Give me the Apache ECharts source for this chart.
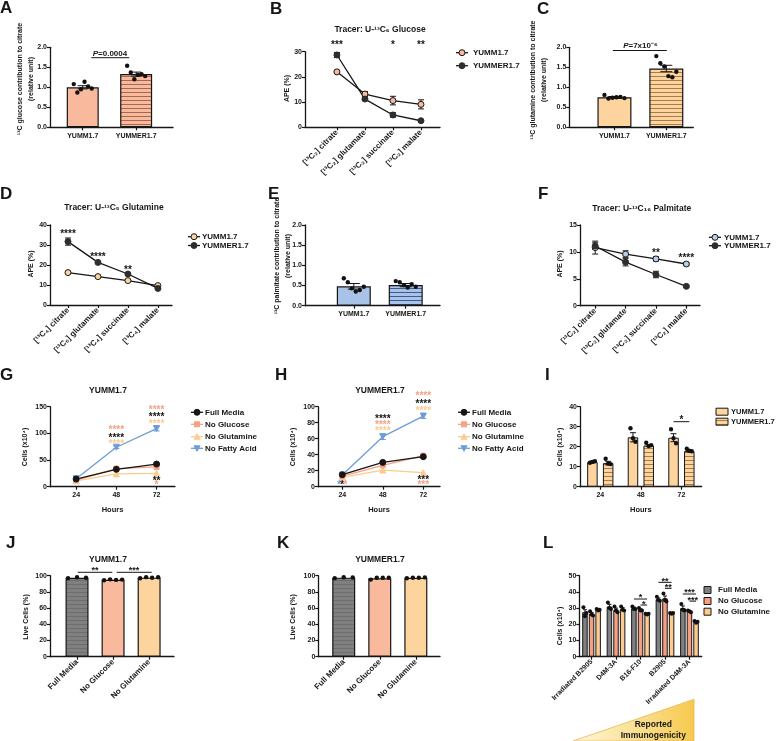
<!DOCTYPE html>
<html><head><meta charset="utf-8">
<script src="https://cdn.jsdelivr.net/npm/echarts@6/dist/echarts.min.js"></script>
<style>html,body{margin:0;padding:0;background:#fff}#c{width:778px;height:741px}</style>
</head><body><div id="c"></div>
<script>
// ================= DATA =================
// A  13C glucose contribution to citrate
const A_labels = ['YUMM1.7', 'YUMMER1.7'];
const A_mean = [1.00, 1.33];
const A_sem = [0.04, 0.05];
const A_dots = [[1.08, 0.87, 0.95, 1.14, 1.02, 0.97], [1.54, 1.37, 1.20, 1.31, 1.33, 1.28]];
// B  Tracer U-13C6 glucose
const B_labels = ['[¹³C₂] citrate', '[¹³C₂] glutamate', '[¹³C₂] succinate', '[¹³C₂] malate'];
const B_yumm = [22.0, 13.2, 10.6, 9.1];
const B_yumm_sem = [0.6, 1.0, 1.7, 1.8];
const B_yummer = [28.7, 11.2, 4.9, 2.6];
const B_yummer_sem = [1.0, 0.6, 0.9, 0.3];
const B_stars = ['***', '', '*', '**'];
// C  13C glutamine contribution to citrate
const C_labels = ['YUMM1.7', 'YUMMER1.7'];
const C_mean = [0.75, 1.47];
const C_sem = [0.02, 0.08];
const C_dots = [[0.81, 0.72, 0.74, 0.75, 0.76, 0.73], [1.78, 1.60, 1.52, 1.28, 1.25, 1.39]];
// D  Tracer U-13C5 glutamine
const D_labels = ['[¹³C₄] citrate', '[¹³C₅] glutamate', '[¹³C₄] succinate', '[¹³C₄] malate'];
const D_yumm = [16.2, 14.2, 12.2, 9.7];
const D_yumm_sem = [0.4, 0.4, 0.4, 0.5];
const D_yummer = [31.7, 21.3, 15.5, 8.3];
const D_yummer_sem = [1.8, 0.6, 0.6, 0.4];
const D_stars = ['****', '****', '**', ''];
// E  13C palmitate contribution to citrate
const E_labels = ['YUMM1.7', 'YUMMER1.7'];
const E_mean = [0.48, 0.51];
const E_sem = [0.07, 0.04];
const E_dots = [[0.68, 0.58, 0.43, 0.35, 0.39, 0.47], [0.61, 0.58, 0.51, 0.45, 0.53, 0.47]];
// F  Tracer U-13C16 palmitate
const F_labels = ['[¹³C₂] citrate', '[¹³C₂] glutamate', '[¹³C₂] succinate', '[¹³C₂] malate'];
const F_yumm = [10.8, 9.6, 8.7, 7.75];
const F_yumm_sem = [1.2, 0.6, 0.4, 0.3];
const F_yummer = [11.1, 8.1, 5.8, 3.6];
const F_yummer_sem = [0.6, 0.7, 0.6, 0.2];
const F_stars = ['', '', '**', '****'];
// G / H  growth curves
const hours = [24, 48, 72];
const media = ['Full Media', 'No Glucose', 'No Glutamine', 'No Fatty Acid'];
const G_full = [14.4, 32.5, 42.5];
const G_noGlc = [12.5, 34.0, 37.0];
const G_noGln = [11.0, 24.0, 25.0];
const G_noFA = [15.0, 74.0, 109.0];
const G_noFA_sem = [0.5, 2.5, 4.5];
const H_full = [15.0, 30.4, 37.5];
const H_noGlc = [13.3, 26.7, 38.8];
const H_noGln = [11.7, 20.8, 17.5];
const H_noFA = [14.6, 62.5, 88.3];
const H_noFA_sem = [0.5, 3.5, 3.0];
// I  cell counts by line
const I_hours = ['24', '48', '72'];
const I_yumm = [12.3, 24.7, 24.5];
const I_yumm_sem = [0.4, 2.3, 2.0];
const I_yumm_dots = [[12.0, 12.4, 12.8], [29.2, 24.2, 22.5], [28.7, 24.2, 21.7]];
const I_yummer = [11.8, 20.6, 17.8];
const I_yummer_sem = [0.9, 0.5, 0.4];
const I_yummer_dots = [[14.0, 11.6, 11.3], [22.0, 20.3, 20.8], [19.0, 18.0, 17.7]];
// J / K  viability
const JK_labels = ['Full Media', 'No Glucose', 'No Glutamine'];
const J_mean = [97.5, 94.9, 97.6];
const J_dots = [[97.0, 98.0, 97.5], [94.3, 95.5, 94.8, 95.2], [96.8, 98.2, 97.4, 98.0]];
const K_mean = [97.6, 96.9, 97.4];
const K_dots = [[97.0, 98.0, 97.8], [95.2, 97.5, 97.4, 97.6], [96.8, 97.5, 97.4, 97.9]];
// L  other melanoma lines
const L_groups = ['Irradiated B2905', 'D4M-3A', 'B16-F10', 'B2905', 'Irradiated D4M-3A'];
const L_full = [27.5, 31.0, 30.0, 35.5, 30.0];
const L_full_sem = [1.5, 1.3, 0.6, 0.8, 1.3];
const L_full_dots = [[30.5, 25.0, 27.0], [33.5, 30.0, 29.5], [31.0, 29.5, 29.5], [37.0, 35.0, 34.5], [32.5, 29.0, 28.5]];
const L_glc = [26.5, 29.0, 29.0, 36.0, 28.0];
const L_glc_sem = [0.8, 1.0, 0.5, 1.5, 0.3];
const L_glc_dots = [[28.0, 26.0, 25.5], [31.0, 28.5, 27.5], [30.0, 28.5, 28.5], [39.0, 35.0, 34.0], [28.5, 28.0, 27.5]];
const L_gln = [29.0, 29.5, 26.5, 27.0, 21.5];
const L_gln_sem = [0.3, 0.8, 0.2, 0.2, 0.3];
const L_gln_dots = [[29.5, 28.5, 29.0], [31.0, 29.0, 28.5], [26.5, 26.0, 26.5], [27.0, 26.5, 27.0], [22.0, 21.0, 21.5]];

// ================= STYLE / HELPERS =================
const FONT = '"Liberation Sans", Arial, Helvetica, sans-serif';
const BLACK = '#161616';
const DARK = '#2e2e2e';
const SALMON = '#F9B99C', SALMON_LN = '#A06A55';
const ORANGE = '#FDD49E', ORANGE_LN = '#A57C4C';
const BLUE = '#A9C2E7', BLUE_LN = '#3F5C8E';
const GRAY = '#808080', GRAY_LN = '#6E6E6E';
const L_SALMON = '#F4A283', L_ORANGE = '#FDCB8E', L_BLUE = '#6E9CD8';
const L_GLC_BAR = '#F59E80';

function stripe(bg, ln) {
  const c = document.createElement('canvas'); c.width = 8; c.height = 4;
  const g = c.getContext('2d'); g.fillStyle = bg; g.fillRect(0, 0, 8, 4);
  g.fillStyle = ln; g.fillRect(0, 0, 8, 1);
  return { image: c, repeat: 'repeat' };
}
const lbl = (size) => ({ color: BLACK, fontSize: size || 7, fontWeight: 'bold', fontFamily: FONT });

const grids = [
  { left: 50, top: 47.3, width: 123, height: 80 },      // A
  { left: 305, top: 51.7, width: 135, height: 75.6 },   // B
  { left: 569.3, top: 47.3, width: 124, height: 80 },   // C
  { left: 50, top: 225, width: 122, height: 80 },       // D
  { left: 305, top: 225, width: 135, height: 80.7 },    // E
  { left: 580, top: 225, width: 120, height: 80.7 },    // F
  { left: 50, top: 406.7, width: 125, height: 80 },     // G
  { left: 318, top: 406.7, width: 122, height: 80 },    // H
  { left: 580, top: 406.7, width: 121.7, height: 80 },  // I
  { left: 50, top: 575.7, width: 124, height: 81 },     // J
  { left: 318.3, top: 575.7, width: 121.7, height: 81 },// K
  { left: 579.3, top: 575.7, width: 122.4, height: 81 } // L
].map(g => Object.assign({ containLabel: false, outerBoundsMode: 'none' }, g));

const axLine = { show: true, onZero: false, lineStyle: { color: BLACK, width: 1.3 } };
const axTick = { show: true, length: 3, lineStyle: { color: BLACK, width: 1.2 } };

function yAx(gi, max, interval, dec) {
  return { type: 'value', gridIndex: gi, min: 0, max, interval, axisLine: axLine, axisTick: axTick,
    splitLine: { show: false }, axisLabel: Object.assign(lbl(7), { margin: 3, formatter: v => v.toFixed(dec) }) };
}
function xVal(gi, min, max, ticks, labels, rotate, name) {
  return { type: 'value', gridIndex: gi, min, max, axisLine: axLine,
    axisTick: Object.assign({ customValues: ticks }, axTick), splitLine: { show: false },
    axisLabel: Object.assign(lbl(rotate ? 8 : 7), { customValues: ticks, rotate: rotate || 0, margin: rotate ? 4 : 5,
      formatter: v => labels ? labels[Math.round(v)] : String(v) }),
    name: name || '', nameLocation: 'middle', nameGap: 19, nameTextStyle: lbl(7.5) };
}
function xCat(gi, cats, rotate, name) {
  return { type: 'category', gridIndex: gi, data: cats, boundaryGap: true, axisLine: axLine,
    axisTick: Object.assign({ alignWithLabel: true }, axTick), splitLine: { show: false },
    axisLabel: Object.assign(lbl(7), { rotate: rotate || 0, margin: rotate ? 4 : 5, interval: 0 }),
    name: name || '', nameLocation: 'middle', nameGap: 19, nameTextStyle: lbl(7.5) };
}

function barSeries(gi, values, colors, width, extra) {
  return Object.assign({ type: 'bar', xAxisIndex: gi, yAxisIndex: gi, barWidth: width, z: 2, silent: true,
    data: values.map((v, i) => ({ value: [i, v], itemStyle: { color: colors[i] } })),
    itemStyle: { borderColor: BLACK, borderWidth: 1.2 } }, extra || {});
}
function catBar(gi, values, color, width, gap) {
  return { type: 'bar', xAxisIndex: gi, yAxisIndex: gi, barWidth: width, barGap: gap, z: 2, silent: true,
    data: values, itemStyle: { color, borderColor: BLACK, borderWidth: 1 } };
}
function errSeries(gi, xs, means, sems, color, cap, dx, z) {
  return { type: 'custom', xAxisIndex: gi, yAxisIndex: gi, z: z || 3, silent: true,
    data: xs.map((x, i) => [x, means[i], sems[i]]),
    renderItem(p, api) {
      const x = api.value(0), m = api.value(1), s = api.value(2);
      const a = api.coord([x, m + s]), b = api.coord([x, m - s]); const cx = a[0] + (dx || 0);
      const st = { stroke: color, lineWidth: 1 };
      return { type: 'group', children: [
        { type: 'line', shape: { x1: cx, y1: a[1], x2: cx, y2: b[1] }, style: st },
        { type: 'line', shape: { x1: cx - cap, y1: a[1], x2: cx + cap, y2: a[1] }, style: st },
        { type: 'line', shape: { x1: cx - cap, y1: b[1], x2: cx + cap, y2: b[1] }, style: st }] };
    } };
}
function dotSeries(gi, groups, xs, spread, dx, r) {
  const data = [];
  groups.forEach((arr, g) => { const n = arr.length;
    arr.forEach((v, i) => { const t = n > 1 ? (i - (n - 1) / 2) / ((n - 1) / 2) : 0; data.push([xs[g], v, t * spread + (dx || 0)]); }); });
  return { type: 'custom', xAxisIndex: gi, yAxisIndex: gi, z: 4, silent: true, data,
    renderItem(p, api) { const c = api.coord([api.value(0), api.value(1)]);
      return { type: 'circle', shape: { cx: c[0] + api.value(2), cy: c[1], r: r || 2.2 }, style: { fill: '#111' } }; } };
}
function lineSeries(gi, name, xs, ys, lineColor, fill, symbol, rot) {
  return { type: 'line', name, xAxisIndex: gi, yAxisIndex: gi, z: 4, silent: true,
    data: xs.map((x, i) => [x, ys[i]]), symbol, symbolSize: symbol === 'rect' ? 5 : 6, symbolRotate: rot || 0,
    lineStyle: { color: lineColor, width: 1.3 }, itemStyle: { color: fill, borderColor: fill === DARK ? DARK : (lineColor === BLACK ? BLACK : fill), borderWidth: 1 } };
}
// text annotations: items [x, y, text, color], placed through the axes
function textSeries(gi, items, size, dxs) {
  return { type: 'custom', xAxisIndex: gi, yAxisIndex: gi, z: 6, silent: true,
    data: items.map(it => [it[0], it[1]]),
    renderItem(p, api) { const it = items[p.dataIndex]; const c = api.coord([api.value(0), api.value(1)]);
      const star = /^\*+$/.test(it[2]);
      return { type: 'text', x: c[0] + (dxs ? dxs[p.dataIndex] : 0), y: c[1] + (star ? size * 0.22 : 0),
        style: { text: it[2], fill: it[3] || BLACK, fontSize: size, fontWeight: 'bold', fontFamily: FONT,
          align: 'center', verticalAlign: 'middle', rich: { i: { fontStyle: 'italic', fontWeight: 'bold', fontSize: size, fontFamily: FONT, fill: it[3] || BLACK } } } }; } };
}
// brackets: [x1, x2, y] with optional pixel offsets for grouped bars
function bracketSeries(gi, items, offs) {
  return { type: 'custom', xAxisIndex: gi, yAxisIndex: gi, z: 6, silent: true,
    data: items.map(it => [it[0], it[2], it[1]]),
    renderItem(p, api) { const a = api.coord([api.value(0), api.value(1)]); const b = api.coord([api.value(2), api.value(1)]);
      const o = offs ? offs[p.dataIndex] : [0, 0];
      return { type: 'line', shape: { x1: a[0] + o[0], y1: a[1], x2: b[0] + o[1], y2: b[1] }, style: { stroke: BLACK, lineWidth: 1 } }; } };
}
const idx4 = [0, 1, 2, 3];

// ================= SERIES =================
const series = [];
// A
series.push(barSeries(0, A_mean, [SALMON, stripe(SALMON, SALMON_LN)], 32));
series.push(errSeries(0, [0, 1], A_mean, A_sem, BLACK, 5));
series.push(dotSeries(0, A_dots, [0, 1], 9));
series.push(bracketSeries(0, [[0.16, 0.87, 1.74]]));
series.push(textSeries(0, [[0.51, 1.83, '{i|P}=0.0004']], 8));
// B
series.push(errSeries(1, idx4, B_yumm, B_yumm_sem, BLACK, 3, 0, 2));
series.push(errSeries(1, idx4, B_yummer, B_yummer_sem, BLACK, 3, 0, 2));
series.push(lineSeries(1, 'YUMM1.7', idx4, B_yumm, BLACK, SALMON, 'circle'));
series.push(lineSeries(1, 'YUMMER1.7', idx4, B_yummer, BLACK, DARK, 'circle'));
series.push(textSeries(1, idx4.filter(i => B_stars[i]).map(i => [i, 33.3, B_stars[i]]), 10));
// C
series.push(barSeries(2, C_mean, [ORANGE, stripe(ORANGE, ORANGE_LN)], 34));
series.push(errSeries(2, [0, 1], C_mean, C_sem, BLACK, 6));
series.push(dotSeries(2, C_dots, [0, 1], 10));
series.push(bracketSeries(2, [[-0.03, 1.01, 1.92]]));
series.push(textSeries(2, [[0.5, 2.03, '{i|P}=7x10⁻⁶']], 8));
// D
series.push(errSeries(3, idx4, D_yumm, D_yumm_sem, BLACK, 3, 0, 2));
series.push(errSeries(3, idx4, D_yummer, D_yummer_sem, BLACK, 3, 0, 2));
series.push(lineSeries(3, 'YUMM1.7', idx4, D_yumm, BLACK, ORANGE, 'circle'));
series.push(lineSeries(3, 'YUMMER1.7', idx4, D_yummer, BLACK, DARK, 'circle'));
series.push(textSeries(3, [[0, 36.3, D_stars[0]], [1, 25.0, D_stars[1]], [2, 18.7, D_stars[2]]], 10));
// E
series.push(barSeries(4, E_mean, [BLUE, stripe(BLUE, BLUE_LN)], 34));
series.push(errSeries(4, [0, 1], E_mean, E_sem, BLACK, 6));
series.push(dotSeries(4, E_dots, [0, 1], 10));
// F
series.push(errSeries(5, idx4, F_yumm, F_yumm_sem, BLACK, 3, 0, 2));
series.push(errSeries(5, idx4, F_yummer, F_yummer_sem, BLACK, 3, 0, 2));
series.push(lineSeries(5, 'YUMM1.7', idx4, F_yumm, BLACK, '#B9CDEB', 'circle'));
series.push(lineSeries(5, 'YUMMER1.7', idx4, F_yummer, BLACK, DARK, 'circle'));
series.push(textSeries(5, [[2, 10.2, F_stars[2]], [3, 9.2, F_stars[3]]], 10));
// G
series.push(errSeries(6, hours, G_noFA, G_noFA_sem, L_BLUE, 3, 0, 2));
series.push(lineSeries(6, 'No Fatty Acid', hours, G_noFA, L_BLUE, L_BLUE, 'triangle', 180));
series.push(lineSeries(6, 'No Glutamine', hours, G_noGln, L_ORANGE, L_ORANGE, 'triangle'));
series.push(lineSeries(6, 'No Glucose', hours, G_noGlc, L_SALMON, L_SALMON, 'rect'));
series.push(lineSeries(6, 'Full Media', hours, G_full, BLACK, BLACK, 'circle'));
series.push(textSeries(6, [
  [48, 109.4, '****', L_SALMON], [48, 95.6, '****', BLACK], [48, 84.4, '****', L_ORANGE],
  [72, 146.9, '****', L_SALMON], [72, 134.4, '****', BLACK], [72, 121.9, '****', L_ORANGE],
  [72, 13.8, '**', BLACK], [72, 7.5, '*', L_SALMON]], 10));
// H
series.push(errSeries(7, hours, H_noFA, H_noFA_sem, L_BLUE, 3, 0, 2));
series.push(lineSeries(7, 'No Fatty Acid', hours, H_noFA, L_BLUE, L_BLUE, 'triangle', 180));
series.push(lineSeries(7, 'No Glutamine', hours, H_noGln, L_ORANGE, L_ORANGE, 'triangle'));
series.push(lineSeries(7, 'No Glucose', hours, H_noGlc, L_SALMON, L_SALMON, 'rect'));
series.push(lineSeries(7, 'Full Media', hours, H_full, BLACK, BLACK, 'circle'));
series.push(textSeries(7, [
  [48, 86.7, '****', BLACK], [48, 80.0, '****', L_SALMON], [48, 72.0, '****', L_ORANGE],
  [72, 115.4, '****', L_SALMON], [72, 106.3, '****', BLACK], [72, 97.5, '****', L_ORANGE],
  [72, 10.4, '***', BLACK], [72, 4.2, '***', L_SALMON],
  [22.2, 5.0, '*', L_BLUE], [24, 5.0, '*', BLACK], [25.9, 5.0, '*', L_SALMON]], 10));
// I
const I_off = [-7.875, 7.875];
series.push(catBar(8, I_yumm, ORANGE, 10.5, '50%'));
series.push(catBar(8, I_yummer, stripe(ORANGE, ORANGE_LN), 10.5, '50%'));
series.push(errSeries(8, [0, 1, 2], I_yumm, I_yumm_sem, BLACK, 3, I_off[0]));
series.push(errSeries(8, [0, 1, 2], I_yummer, I_yummer_sem, BLACK, 3, I_off[1]));
series.push(dotSeries(8, I_yumm_dots, [0, 1, 2], 2.5, I_off[0]));
series.push(dotSeries(8, I_yummer_dots, [0, 1, 2], 2.5, I_off[1]));
series.push(bracketSeries(8, [[2, 2, 32.5]], [[I_off[0], I_off[1]]]));
series.push(textSeries(8, [[2, 34.5, '*']], 10));
// J
series.push(barSeries(9, J_mean, [stripe(GRAY, GRAY_LN), SALMON, ORANGE], 23));
series.push(dotSeries(9, J_dots, [0, 1, 2], 9));
series.push(bracketSeries(9, [[0.02, 0.98, 104.2], [1.1, 2.07, 104.2]]));
series.push(textSeries(9, [[0.5, 108.5, '**'], [1.58, 108.5, '***']], 9));
// K
series.push(barSeries(10, K_mean, [stripe(GRAY, GRAY_LN), SALMON, ORANGE], 23));
series.push(dotSeries(10, K_dots, [0, 1, 2], 9));
// L
const L_off = [-6.6, 0, 6.6];
series.push(catBar(11, L_full, GRAY, 5.5, '20%'));
series.push(catBar(11, L_glc, L_GLC_BAR, 5.5, '20%'));
series.push(catBar(11, L_gln, L_ORANGE, 5.5, '20%'));
const g5 = [0, 1, 2, 3, 4];
series.push(errSeries(11, g5, L_full, L_full_sem, BLACK, 2, L_off[0]));
series.push(errSeries(11, g5, L_glc, L_glc_sem, BLACK, 2, L_off[1]));
series.push(errSeries(11, g5, L_gln, L_gln_sem, BLACK, 2, L_off[2]));
series.push(dotSeries(11, L_full_dots, g5, 1.5, L_off[0], 2));
series.push(dotSeries(11, L_glc_dots, g5, 1.5, L_off[1], 2));
series.push(dotSeries(11, L_gln_dots, g5, 1.5, L_off[2], 2));
series.push(bracketSeries(11, [[2, 2, 35.6], [2, 2, 31.9], [3, 3, 45.9], [3, 3, 42.2], [4, 4, 38.7], [4, 4, 34.3]],
  [[L_off[0], L_off[2]], [L_off[1], L_off[2]], [L_off[0], L_off[2]], [L_off[1], L_off[2]], [L_off[0], L_off[2]], [L_off[1], L_off[2]]]));
series.push(textSeries(11, [[2, 37.6, '*'], [2, 33.7, '*'], [3, 47.9, '**'], [3, 44.1, '**'], [4, 40.6, '***'], [4, 36.2, '***']], 9,
  [0, 3.3, 0, 3.3, 0, 3.3]));

// ================= GRAPHIC (letters, titles, axis titles, legends) =================
const G = [];
const T = (x, y, text, size, opts) => G.push(Object.assign({ type: 'text', x, y, silent: true,
  style: Object.assign({ text, fill: BLACK, fontSize: size, fontWeight: 'bold', fontFamily: FONT, align: 'center', verticalAlign: 'middle' }, (opts && opts.style) || {}) },
  opts && opts.rotation ? { rotation: opts.rotation } : {}));
// panel letters
[['A', 0, 8], ['B', 270, 9], ['C', 537, 9], ['D', 0, 194], ['E', 268, 194], ['F', 538, 194],
 ['G', 0, 375.5], ['H', 275, 375.5], ['I', 545, 375.5], ['J', 6, 543], ['K', 277, 543], ['L', 543, 543]]
  .forEach(l => T(l[1], l[2], l[0], 17, { style: { align: 'left' } }));
// chart titles
T(380, 30, 'Tracer: U-¹³C₆ Glucose', 8.5);
T(114, 207.3, 'Tracer: U-¹³C₅ Glutamine', 8.5);
T(641.7, 208.3, 'Tracer: U-¹³C₁₆ Palmitate', 8.5);
T(108, 391, 'YUMM1.7', 8.5); T(380, 391, 'YUMMER1.7', 8.5);
T(108, 560, 'YUMM1.7', 8.5); T(380, 560, 'YUMMER1.7', 8.5);
// y-axis titles
const R = Math.PI / 2;
const yt = (x, y, t) => T(x, y, t, 7, { rotation: R, style: { lineHeight: 11 } });
yt(26, 79, '¹³C glucose contribution to citrate\n(relative unit)');
yt(539, 80, '¹³C glutamine contribution to citrate\n(relative unit)');
yt(283, 256, '¹³C palmitate contribution to citrate\n(relative unit)');
yt(287, 88.5, 'APE (%)'); yt(31, 264, 'APE (%)'); yt(560, 264, 'APE (%)');
yt(25, 447, 'Cells (x10⁴)'); yt(293, 447, 'Cells (x10⁴)'); yt(560, 447, 'Cells (x10⁴)');
yt(26, 617, 'Live Cells (%)'); yt(293, 617, 'Live Cells (%)'); yt(560, 626, 'Cells (x10⁴)');
// legend helpers
function sym(cx, cy, kind, fill, stroke) {
  const st = { fill, stroke: stroke || fill, lineWidth: 1 };
  if (kind === 'circle') return { type: 'circle', shape: { cx, cy, r: 3 }, style: st, silent: true };
  if (kind === 'rect') return { type: 'rect', shape: { x: cx - 2.5, y: cy - 2.5, width: 5, height: 5 }, style: st, silent: true };
  if (kind === 'tri') return { type: 'polygon', shape: { points: [[cx, cy - 3], [cx + 3, cy + 2.5], [cx - 3, cy + 2.5]] }, style: st, silent: true };
  return { type: 'polygon', shape: { points: [[cx, cy + 3], [cx + 3, cy - 2.5], [cx - 3, cy - 2.5]] }, style: st, silent: true };
}
function lineLeg(x, y, tx, color, kind, fill, stroke, text) {
  G.push({ type: 'line', shape: { x1: x, y1: y, x2: x + 12, y2: y }, style: { stroke: color, lineWidth: 1.3 }, silent: true });
  G.push(sym(x + 6, y, kind, fill, stroke));
  T(tx, y, text, 8, { style: { align: 'left' } });
}
function boxLeg(x, y, w, h, tx, fill, text, size) {
  G.push({ type: 'rect', shape: { x, y: y - h / 2, width: w, height: h }, style: { fill, stroke: BLACK, lineWidth: 1 }, silent: true });
  T(tx, y, text, size || 8, { style: { align: 'left' } });
}
lineLeg(456, 52.7, 473, BLACK, 'circle', SALMON, BLACK, 'YUMM1.7');
lineLeg(456, 65.7, 473, BLACK, 'circle', DARK, DARK, 'YUMMER1.7');
lineLeg(188, 236.7, 202, BLACK, 'circle', ORANGE, BLACK, 'YUMM1.7');
lineLeg(188, 245.5, 202, BLACK, 'circle', DARK, DARK, 'YUMMER1.7');
lineLeg(709, 237.3, 724, BLACK, 'circle', '#B9CDEB', BLACK, 'YUMM1.7');
lineLeg(709, 245.7, 724, BLACK, 'circle', DARK, DARK, 'YUMMER1.7');
const legY = [412.3, 424.3, 436.7, 448.3];
const legK = [['circle', BLACK], ['rect', L_SALMON], ['tri', L_ORANGE], ['itri', L_BLUE]];
[191, 458].forEach((lx, p) => media.forEach((m, i) => lineLeg(lx, legY[i], lx + 14, legK[i][1], legK[i][0], legK[i][1], legK[i][1], m)));
boxLeg(716, 411.7, 12, 7, 731, ORANGE, 'YUMM1.7', 7.5);
boxLeg(716, 421.7, 12, 7, 731, stripe(ORANGE, ORANGE_LN), 'YUMMER1.7', 7.5);
boxLeg(704, 590, 7, 7, 718, GRAY, 'Full Media');
boxLeg(704, 601, 7, 7, 718, L_GLC_BAR, 'No Glucose');
boxLeg(704, 611.7, 7, 7, 718, L_ORANGE, 'No Glutamine');
// immunogenicity wedge
G.push({ type: 'polygon', silent: true, shape: { points: [[573, 741], [694, 699.3], [694, 741]] },
  style: { fill: new echarts.graphic.LinearGradient(0, 0, 1, 0, [{ offset: 0, color: '#FFF8DC' }, { offset: 1, color: '#F7C94E' }]),
    stroke: '#E8B84E', lineWidth: 0.8 } });
T(653.3, 725, 'Reported', 8.5); T(653.3, 735.5, 'Immunogenicity', 8.5);

// ================= OPTION =================
const option = {
  animation: false,
  textStyle: { fontFamily: FONT },
  grid: grids,
  xAxis: [
    xVal(0, -0.613, 1.69, [0, 1], A_labels, 0),
    xVal(1, -1.14, 3.68, idx4, B_labels, 45),
    xVal(2, -0.87, 1.52, [0, 1], C_labels, 0),
    xVal(3, -0.6, 3.47, idx4, D_labels, 45),
    xVal(4, -0.94, 1.66, [0, 1], E_labels, 0),
    xVal(5, -0.5, 3.45, idx4, F_labels, 45),
    xVal(6, 8.4, 83, hours, null, 0, 'Hours'),
    xVal(7, 9.6, 81.9, hours, null, 0, 'Hours'),
    xCat(8, I_hours, 0, 'Hours'),
    xVal(9, -0.75, 2.69, [0, 1, 2], JK_labels, 45),
    xVal(10, -0.705, 2.67, [0, 1, 2], JK_labels, 45),
    xCat(11, L_groups, 45)
  ],
  yAxis: [
    yAx(0, 2, 0.5, 1), yAx(1, 30, 10, 0), yAx(2, 2, 0.5, 1), yAx(3, 40, 10, 0), yAx(4, 2, 0.5, 1), yAx(5, 15, 5, 0),
    yAx(6, 150, 50, 0), yAx(7, 100, 20, 0), yAx(8, 40, 10, 0), yAx(9, 100, 20, 0), yAx(10, 100, 20, 0), yAx(11, 50, 10, 0)
  ],
  series,
  graphic: { elements: G }
};
const chart = echarts.init(document.getElementById('c'));
chart.setOption(option);
</script></body></html>
